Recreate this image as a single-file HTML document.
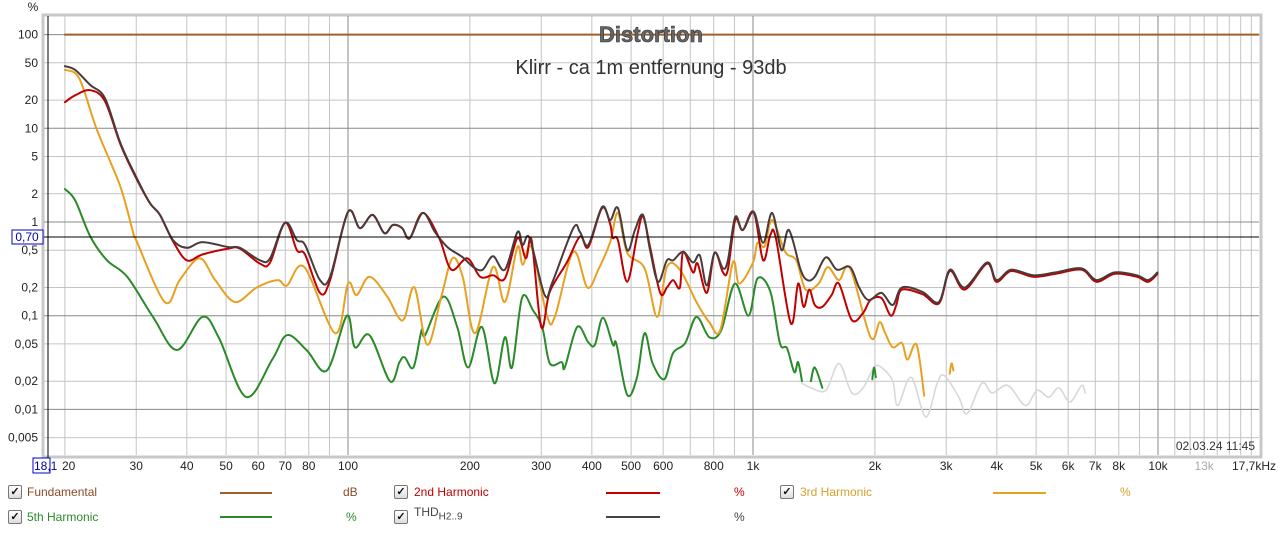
<!DOCTYPE html>
<html><head><meta charset="utf-8"><style>
body{margin:0;background:#fff;width:1280px;height:536px;overflow:hidden;font-family:"Liberation Sans",sans-serif}
.lg{position:absolute;font-size:12px}
.cb{position:absolute;width:12px;height:12px;border:1px solid #777;border-radius:2px;background:linear-gradient(#fff,#ddd);font-size:11px;line-height:12px;text-align:center;color:#111;font-weight:bold}
.ln{position:absolute;height:2px}
</style></head><body>
<svg id="chart" width="1280" height="480" style="position:absolute;left:0;top:0" xmlns="http://www.w3.org/2000/svg" font-family="Liberation Sans, sans-serif"></svg>

<div>
<div class="cb" style="left:8px;top:485px">✓</div>
<div class="lg" style="left:27px;top:485px;color:#8b4a2a">Fundamental</div>
<div class="ln" style="left:220px;top:492px;width:52px;background:#a0602a"></div>
<div class="lg" style="left:343px;top:485px;color:#8b4a2a">dB</div>
<div class="cb" style="left:394px;top:485px">✓</div>
<div class="lg" style="left:414px;top:485px;color:#c00000">2nd Harmonic</div>
<div class="ln" style="left:606px;top:492px;width:54px;background:#c00000"></div>
<div class="lg" style="left:734px;top:485px;color:#c00000">%</div>
<div class="cb" style="left:780px;top:485px">✓</div>
<div class="lg" style="left:800px;top:485px;color:#d4a030">3rd Harmonic</div>
<div class="ln" style="left:993px;top:492px;width:53px;background:#e8a020"></div>
<div class="lg" style="left:1120px;top:485px;color:#d4a030">%</div>
<div class="cb" style="left:8px;top:510px">✓</div>
<div class="lg" style="left:27px;top:510px;color:#2a8a2a">5th Harmonic</div>
<div class="ln" style="left:220px;top:516px;width:52px;background:#2a8a2a"></div>
<div class="lg" style="left:346px;top:510px;color:#2a8a2a">%</div>
<div class="cb" style="left:394px;top:510px">✓</div>
<div class="lg" style="left:414px;top:505px;color:#444">THD<sub style="font-size:10px">H2..9</sub></div>
<div class="ln" style="left:606px;top:516px;width:54px;background:#444"></div>
<div class="lg" style="left:734px;top:510px;color:#444">%</div>
</div>

<script>
const yTicks=[100,50,20,10,5,2,1,0.5,0.2,0.1,0.05,0.02,0.01,0.005];
const yTickLabels=["100","50","20","10","5","2","1","0,5","0,2","0,1","0,05","0,02","0,01","0,005"];
const yMajor=[100,10,1,0.1,0.01];
const xGrid=[20,30,40,50,60,70,80,90,100,200,300,400,500,600,700,800,900,1000,2000,3000,4000,5000,6000,7000,8000,9000,10000,11000,12000,13000,14000,15000,16000,17000];
const xMajor=[100,1000,10000];
const xTicks=[30,40,50,60,70,80,100,200,300,400,500,600,800,1000,2000,3000,4000,5000,6000,7000,8000,10000,13000];
const xTickLabels=["30","40","50","60","70","80","100","200","300","400","500","600","800","1k","2k","3k","4k","5k","6k","7k","8k","10k","13k"];
const fundF=[20,17700];
const fundV=[100,100];
const thdF=[20,21.2,23.1,25.1,27.4,29.8,32.4,34.3,37,40,43.7,50.6,54.1,60.6,64.2,69.9,74.8,78.3,85.3,90.3,100,107,115,123,129,136,142,153,164,176,192,204,215,228,244,262,270,281,306,320,360,374,392,424,444,464,489,511,535,557,583,613,635,672,711,739,769,804,843,867,904,943,1004,1059,1115,1176,1227,1311,1362,1421,1514,1611,1737,1828,1928,2076,2213,2333,2618,2878,3064,3333,3785,3990,4339,4921,5587,6474,7047,7826,8872,9455,9970];
const thdV=[46,42,29,21,7,3.2,1.6,1.2,0.64,0.53,0.61,0.54,0.53,0.39,0.41,0.98,0.64,0.57,0.24,0.26,1.28,0.86,1.19,0.76,0.93,0.86,0.67,1.25,0.78,0.54,0.42,0.33,0.31,0.43,0.31,0.78,0.57,0.67,0.166,0.23,0.86,0.78,0.57,1.45,1.05,1.41,0.5,0.82,1.19,0.5,0.23,0.39,0.39,0.48,0.37,0.44,0.21,0.47,0.32,0.39,1.13,0.82,1.28,0.6,1.25,0.5,0.82,0.31,0.24,0.26,0.42,0.31,0.33,0.2,0.147,0.175,0.13,0.2,0.18,0.14,0.31,0.2,0.37,0.24,0.31,0.27,0.29,0.32,0.24,0.29,0.27,0.24,0.29];
const h2F=[20,21.2,23.1,25.1,27.4,29.8,32.4,34.3,37,40,43.7,50.6,54.1,60.6,64.2,69.9,74.8,78.3,85.3,90.3,100,107,115,123,129,136,142,153,168,180,197,212,228,244,262,275,284,300,315,347,374,392,424,444,450,464,489,517,535,557,590,613,635,660,672,711,730,769,804,843,867,904,943,1004,1059,1104,1139,1240,1292,1334,1377,1421,1483,1563,1630,1754,1870,1950,2076,2188,2259,2333,2618,2878,3064,3333,3785,3990,4339,4921,5587,6474,7047,7826,8872,9455,9970];
const h2V=[19,22.5,25.5,19.5,6.8,3.1,1.6,1.2,0.62,0.39,0.45,0.52,0.52,0.36,0.37,0.98,0.5,0.45,0.175,0.24,1.28,0.86,1.19,0.76,0.93,0.86,0.67,1.25,0.67,0.31,0.41,0.26,0.27,0.25,0.67,0.41,0.64,0.076,0.18,0.37,0.7,0.54,1.41,0.95,0.68,0.64,0.23,0.7,1.15,0.54,0.175,0.2,0.24,0.2,0.48,0.29,0.36,0.175,0.47,0.29,0.31,1.05,0.82,1.28,0.39,0.73,0.67,0.083,0.22,0.124,0.19,0.13,0.124,0.166,0.22,0.09,0.107,0.147,0.154,0.1,0.13,0.19,0.17,0.135,0.3,0.19,0.36,0.23,0.3,0.26,0.28,0.31,0.23,0.28,0.26,0.23,0.28];
const h3F=[20,21.7,24,27.4,29.5,30,35.3,38.4,43,47,52.6,59.5,67,70.7,78,93,100,105,113,125,133,138,146,157,170,181,192,206,228,244,262,270,284,310,324,360,390,415,444,464,489,540,580,613,660,725,780,830,892,925,1000,1026,1069,1115,1201,1279,1349,1452,1530,1630,1737,1950,2054,2120,2213,2333,2406,2535,2647];
const h3V=[42,34,9.6,2.4,0.76,0.64,0.14,0.24,0.41,0.24,0.14,0.2,0.24,0.21,0.33,0.065,0.22,0.166,0.26,0.16,0.097,0.095,0.2,0.049,0.16,0.41,0.26,0.065,0.33,0.14,0.54,0.35,0.53,0.1,0.097,0.48,0.2,0.31,0.61,1.25,0.47,0.32,0.097,0.33,0.31,0.14,0.085,0.07,0.37,0.22,0.37,0.6,0.55,1.05,0.48,0.39,0.19,0.22,0.33,0.24,0.32,0.059,0.085,0.065,0.046,0.051,0.034,0.049,0.014];
const h3bF=[3060,3092,3124];
const h3bV=[0.024,0.031,0.026];
const h5F=[20,21.2,23.1,25.4,28.5,33,37.8,43.7,48,56,65,70.7,79,88.7,99.4,104,113,127,134,138,145,152,155,172,186,198,214,230,244,254,269,286,302,315,337,343,368,392,407,426,451,460,489,517,540,565,604,635,680,725,780,835,902,975,1026,1104,1165,1213,1265,1292,1321];
const h5V=[2.25,1.7,0.7,0.39,0.26,0.097,0.043,0.097,0.058,0.0136,0.034,0.062,0.043,0.026,0.1,0.046,0.062,0.02,0.032,0.036,0.028,0.07,0.062,0.16,0.076,0.028,0.076,0.019,0.059,0.028,0.155,0.115,0.074,0.031,0.032,0.028,0.076,0.052,0.049,0.095,0.049,0.05,0.0143,0.022,0.065,0.031,0.021,0.04,0.051,0.097,0.059,0.07,0.22,0.1,0.25,0.18,0.051,0.045,0.025,0.032,0.02];
const h5bF=[1390,1421,1483];
const h5bV=[0.02,0.028,0.017];
const h5cF=[1970,1990,2010];
const h5cV=[0.021,0.028,0.022];
const noiseF=[1321,1391,1514,1630,1754,1870,1990,2076,2213,2277,2458,2669,2850,2968,3223,3378,3675,3897,4262,4703,5028,5374,5693,6064,6474,6612];
const noiseV=[0.019,0.017,0.016,0.031,0.015,0.017,0.028,0.028,0.02,0.011,0.022,0.0083,0.019,0.023,0.0135,0.009,0.019,0.015,0.018,0.011,0.016,0.0135,0.017,0.012,0.018,0.015];

const NS='http://www.w3.org/2000/svg';
const svg=document.getElementById('chart');
const L=44,R=1259,T=16,B=455;
function xs(f){return 348+405*Math.log10(f/100);}
function ys(v){return 222-93.7*Math.log10(v);}
function mk(tag,attrs,parent){const e=document.createElementNS(NS,tag);for(const k in attrs)e.setAttribute(k,attrs[k]);(parent||svg).appendChild(e);return e;}

const frame=mk('rect',{x:L-1,y:T-1,width:R-L+3,height:B-T+3,fill:'#fff',stroke:'#c8c8c8','stroke-width':3});



const grid=mk('g',{});


xGrid.forEach(f=>{const x=xs(f);const maj=xMajor.includes(f);
 const l=mk('line',{x1:x,x2:x,y1:T,y2:B,stroke:maj?'#888':'#c4c4c4','stroke-width':1},grid);
 
 });
yTicks.forEach(v=>{const y=ys(v);const maj=yMajor.includes(v);
 const l=mk('line',{x1:L,x2:R,y1:y,y2:y,stroke:maj?'#888':'#c4c4c4','stroke-width':1},grid);
 
 });

const yl=mk('g',{'font-size':12,fill:'#222','text-anchor':'end'});


yTicks.forEach((v,i)=>{const t=mk('text',{x:38,y:ys(v)+4},yl);t.textContent=yTickLabels[i];
 
 });
const yu=mk('text',{x:33,y:11,'font-size':12,fill:'#222','text-anchor':'middle'});yu.textContent='%';



const xl=mk('g',{'font-size':12,fill:'#222','text-anchor':'middle'});


xTicks.forEach((f,i)=>{const t=mk('text',{x:xs(f),y:470,fill:f==13000?'#aaa':'#222'},xl);t.textContent=xTickLabels[i];
 
 });
const xt20=mk('text',{x:62,y:470,'font-size':12,fill:'#222'});xt20.textContent='20';


const xu=mk('text',{x:1276,y:470,'font-size':12,fill:'#222','text-anchor':'end'});xu.textContent='17,7kHz';



function series(F,V,color,name,w){
 const P=F.map((f,i)=>[xs(f),ys(V[i])]);
 let d='M'+P[0][0].toFixed(1)+','+P[0][1].toFixed(1);
 for(let i=0;i<P.length-1;i++){
  const p0=P[Math.max(0,i-1)],p1=P[i],p2=P[i+1],p3=P[Math.min(P.length-1,i+2)];
  const c1=[p1[0]+(p2[0]-p0[0])/6,p1[1]+(p2[1]-p0[1])/6];
  const c2=[p2[0]-(p3[0]-p1[0])/6,p2[1]-(p3[1]-p1[1])/6];
  d+='C'+c1[0].toFixed(1)+','+c1[1].toFixed(1)+' '+c2[0].toFixed(1)+','+c2[1].toFixed(1)+' '+p2[0].toFixed(1)+','+p2[1].toFixed(1);
 }
 const p=mk('path',{d:d,fill:'none',stroke:color,'stroke-width':w||2,'stroke-linejoin':'round','stroke-linecap':'round'});
 
 
}
series(noiseF,noiseV,'#d8d8d8','noise-floor-line',1.6);
series(fundF,fundV,'#a0602a','fundamental-line');
series(h5F,h5V,'#2a8a2a','h5-line');
series(h5bF,h5bV,'#2a8a2a','h5-line-segment');
series(h5cF,h5cV,'#2a8a2a','h5-line-segment');
series(h3F,h3V,'#e8a020','h3-line');
series(h3bF,h3bV,'#e8a020','h3-line-segment');
series(h2F,h2V,'#c00000','h2-line');
series(thdF,thdV,'#4a3a3a','thd-line');

const cx=mk('line',{x1:48,x2:48,y1:T,y2:459,stroke:'#000','stroke-width':1});


const cy=mk('line',{x1:44,x2:R,y1:237,y2:237,stroke:'#000','stroke-width':1});


const cyb=mk('rect',{x:12,y:230,width:31,height:14,fill:'#fff',stroke:'#00c','stroke-width':1});


const cyt=mk('text',{x:27,y:241,'font-size':12,fill:'#00a','text-anchor':'middle'});cyt.textContent='0,70';


const cxb=mk('rect',{x:33,y:458,width:17,height:15,fill:'#fff',stroke:'#00c','stroke-width':1});


const cxt=mk('text',{x:34,y:470,'font-size':12,fill:'#00a'});cxt.textContent='18,1';



const ti=mk('text',{x:651,y:42,'font-size':22,'font-weight':'bold',fill:'#666',stroke:'#333','stroke-width':0.6,'text-anchor':'middle'});ti.textContent='Distortion';


const st=mk('text',{x:651,y:74,'font-size':20,fill:'#333','text-anchor':'middle'});st.textContent='Klirr - ca 1m entfernung - 93db';


const ts=mk('text',{x:1255,y:450,'font-size':12,fill:'#333','text-anchor':'end'});ts.textContent='02.03.24 11:45';


</script>
</body></html>
